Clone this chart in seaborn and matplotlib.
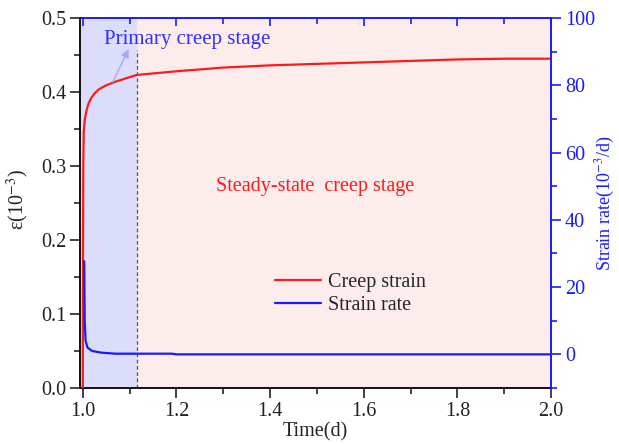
import matplotlib
matplotlib.use("Agg")
import matplotlib.pyplot as plt
from matplotlib.ticker import MultipleLocator
import seaborn as sns
import pandas as pd

# Creep strain (10^-3) over time (d)
strain_time = [1.000, 1.0005, 1.001, 1.002, 1.004, 1.008, 1.012, 1.018, 1.025, 1.035, 1.05,
               1.07, 1.09, 1.115, 1.2, 1.3, 1.4, 1.5, 1.6, 1.7, 1.8, 1.9, 2.0]
strain_value = [0.0, 0.20, 0.30, 0.345, 0.362, 0.375, 0.384, 0.392, 0.398, 0.404, 0.409,
                0.414, 0.418, 0.423, 0.428, 0.433, 0.436, 0.438, 0.440, 0.442, 0.444, 0.445, 0.445]

# Strain rate (10^-3/d) over time (d)
rate_time = [1.003, 1.004, 1.006, 1.01, 1.02, 1.04, 1.07, 1.19, 1.2, 1.5, 2.0]
rate_value = [27.7, 10.0, 4.0, 2.0, 1.0, 0.5, 0.2, 0.2, 0.0, 0.0, 0.0]

primary_end = 1.115
x_ticks = [1.0, 1.2, 1.4, 1.6, 1.8, 2.0]

BLUE = "#1a1aff"
RED = "#ff1a1a"
FS = 14.5
W, H = 619, 444

sns.set_style("ticks")
plt.rcParams["font.family"] = ["Liberation Serif", "DejaVu Serif"]
plt.rcParams["mathtext.fontset"] = "stix"
plt.rcParams["font.size"] = FS

strain_df = pd.DataFrame({"time": strain_time, "strain": strain_value})
rate_df = pd.DataFrame({"time": rate_time, "rate": rate_value})

fig = plt.figure(figsize=(W / 100, H / 100), dpi=100)
ax = fig.add_axes([80 / W, 56 / H, 471 / W, 370 / H])
ax2 = ax.twinx()

xmin, xmax = 0.994, 2.0
ax.set_xlim(xmin, xmax)
ax.set_ylim(0, 0.5)
ax2.set_ylim(-10, 100)

# Stage shading
ax.axvspan(xmin, primary_end, color="#dcdcfb", lw=0, zorder=0)
ax.axvspan(primary_end, xmax, color="#fdecec", lw=0, zorder=0)
ax.plot([primary_end, primary_end], [0, 0.457], ls=(0, (3, 2)), color="#555555", lw=0.9, zorder=1)

sns.lineplot(data=strain_df, x="time", y="strain", ax=ax, color=RED, lw=1.6,
             legend=False, zorder=3)
sns.lineplot(data=rate_df, x="time", y="rate", ax=ax2, color=BLUE, lw=1.6,
             legend=False, zorder=3)

# Axis styling
ax.set_xticks(x_ticks)
ax.xaxis.set_minor_locator(MultipleLocator(0.1))
ax.yaxis.set_major_locator(MultipleLocator(0.1))
ax.yaxis.set_minor_locator(MultipleLocator(0.05))
ax2.set_yticks([0, 20, 40, 60, 80, 100])
ax2.yaxis.set_minor_locator(MultipleLocator(10))

ax.tick_params(axis="both", which="major", direction="out", length=7, width=1.2, labelsize=FS,
               colors="#222222", pad=3)
ax.tick_params(axis="both", which="minor", direction="out", length=4, width=1.2, colors="#222222")
ax.tick_params(axis="x", which="both", top=False)
ax2.tick_params(axis="y", which="major", direction="out", length=7, width=1.2, labelsize=FS,
                colors=BLUE, pad=3)
ax2.tick_params(axis="y", which="minor", direction="out", length=4, width=1.2, colors=BLUE)

secx = ax.secondary_xaxis("top")
secx.set_xticks(x_ticks)
secx.xaxis.set_minor_locator(MultipleLocator(0.1))
secx.tick_params(axis="x", which="major", direction="in", length=6, width=1.2, colors=BLUE,
                 labeltop=False)
secx.tick_params(axis="x", which="minor", direction="in", length=4, width=1.2, colors=BLUE)
secx.spines["top"].set_color(BLUE)
secx.spines["top"].set_linewidth(1.4)

for s in ["left", "bottom"]:
    ax.spines[s].set_color("#111111")
    ax.spines[s].set_linewidth(1.4)
ax.spines["top"].set_visible(False)
ax.spines["right"].set_visible(False)
ax2.spines["right"].set_color(BLUE)
ax2.spines["right"].set_linewidth(1.4)
for s in ["left", "bottom", "top"]:
    ax2.spines[s].set_visible(False)

# Axis titles placed in figure pixels
ax.set_xlabel("")
ax.set_ylabel("")
ax2.set_ylabel("")
fig.text(315 / W, 1 - 432 / H, "Time(d)", fontsize=FS, color="#222222", ha="center", va="center")
fig.text(18 / W, 1 - 200 / H, "ε(10$^{-3}$)", fontsize=FS, color="#222222", rotation=90,
         ha="center", va="center")
fig.text(605 / W, 1 - 203 / H, "Strain rate(10$^{-3}$/d)", fontsize=13, color=BLUE, rotation=90,
         ha="center", va="center")

# Stage annotations
ax.annotate("", xy=(1.098, 0.458), xytext=(1.064, 0.4135), textcoords="data",
            arrowprops=dict(arrowstyle="-|>", color="#a8a8f5", lw=1, mutation_scale=12,
                            shrinkA=0, shrinkB=0))
ax.text(1.045, 0.471, "Primary creep stage", fontsize=15, color="#3030ff", va="center", ha="left")
ax.text(1.496, 0.272, "Steady-state  creep stage", fontsize=FS, color=RED, va="center", ha="center")

leg = ax.legend(handles=[ax.get_lines()[-1], ax2.get_lines()[0]],
                labels=["Creep strain", "Strain rate"], loc="center left",
                bbox_to_anchor=(0.375, 0.255), frameon=False, fontsize=FS,
                handlelength=2.3, handletextpad=0.35, labelspacing=0.2)

fig.savefig("out.png", dpi=100)
